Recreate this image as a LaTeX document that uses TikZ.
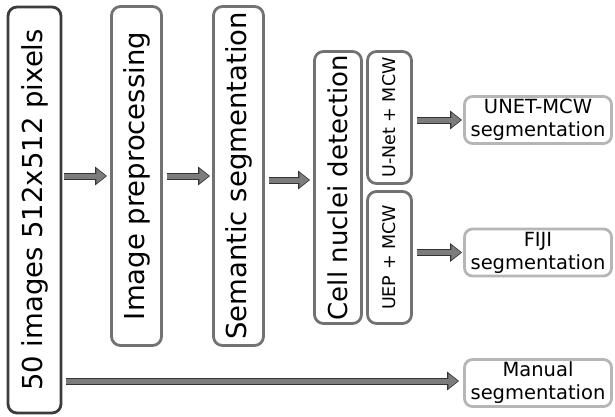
\documentclass[tikz,border=0pt]{standalone}
\usepackage{fontspec}
\setmainfont{DejaVu Sans}
\usetikzlibrary{arrows.meta}
\definecolor{darkframe}{HTML}{3C3C3C}
\definecolor{midframe}{HTML}{727272}
\definecolor{lightframe}{HTML}{B6B6B6}
\definecolor{arrowfill}{HTML}{7C7C7C}
\definecolor{arrowline}{HTML}{333333}

\begin{document}
\begin{tikzpicture}[x=1pt,y=-1pt,
		stage/.style={draw=midframe,line width=2.8pt,rounded corners=9pt,rotate=90,inner sep=0pt,font=\fontsize{27.5}{33}\selectfont},
		result/.style={draw=lightframe,line width=2.8pt,rounded corners=8pt,inner sep=0pt,minimum width=147pt,minimum height=47pt,align=center,font=\fontsize{19.5}{23}\selectfont},
		flow/.style={draw=arrowfill,line width=5pt,-{Triangle[length=9.5pt,width=14pt,sep=1.2pt]},
			preaction={draw=arrowline,line width=7pt,-{Triangle[length=12pt,width=18pt]}}}]
		\useasboundingbox (0,0) rectangle (615,416);
		% pipeline
		\node[stage,draw=darkframe,minimum width=406pt,minimum height=53pt] (images) at (34.5,210) {50 images 512x512 pixels};
		\node[stage,minimum width=339pt,minimum height=50pt] (prep) at (136.5,176) {Image preprocessing};
		\node[stage,minimum width=339pt,minimum height=50pt] (semseg) at (238.5,176) {Semantic segmentation};
		\node[stage,minimum width=272pt,minimum height=47pt,font=\fontsize{26}{31}\selectfont] (nuclei) at (338,187.5) {Cell nuclei detection};
		\node[stage,minimum width=132pt,minimum height=44pt,font=\fontsize{17.5}{21}\selectfont] (unetmcw) at (389.5,117.5) {U-Net + MCW};
		\node[stage,minimum width=132pt,minimum height=44pt,font=\fontsize{17.5}{21}\selectfont] (uepmcw) at (389.5,257.5) {UEP + MCW};
		% results
		\node[result] (unetseg) at (538,120) {UNET-MCW\\segmentation};
		\node[result] (fijiseg) at (538,252.5) {FIJI\\segmentation};
		\node[result] (manseg) at (538,383) {Manual\\segmentation};
		\coordinate (into) at ([yshift=7.5pt]nuclei.north);
		\coordinate (tomanual) at ([yshift=2pt]manseg.west);
		% arrows
		\draw[flow,shorten <=2pt,shorten >=3pt] (images.south |- prep.north) -- (prep.north);
		\draw[flow,shorten <=4pt,shorten >=2pt] (prep.south |- semseg.north) -- (semseg.north);
		\draw[flow,shorten <=4pt,shorten >=3pt] (semseg.south |- into) -- (into);
		\draw[flow,shorten <=4pt,shorten >=1pt] (unetmcw.south |- unetseg.west) -- (unetseg.west);
		\draw[flow,shorten <=4pt,shorten >=1pt] (uepmcw.south |- fijiseg.west) -- (fijiseg.west);
		\draw[flow,shorten <=4pt,shorten >=4pt] (images.south |- tomanual) -- (tomanual);
\end{tikzpicture}
\end{document}
